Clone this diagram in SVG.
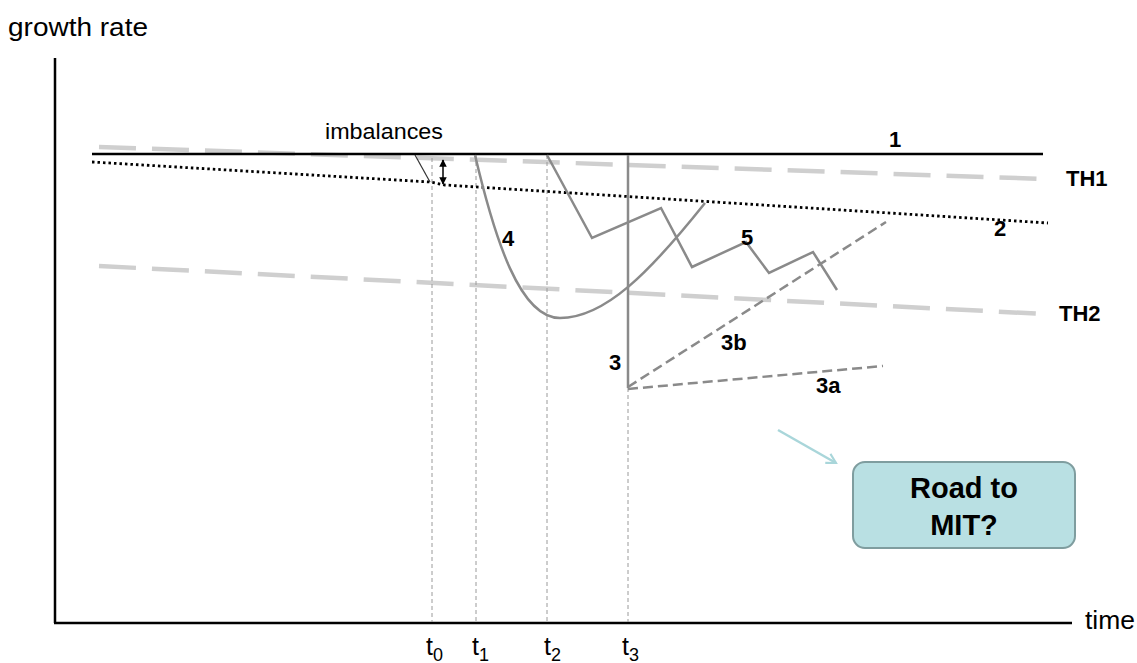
<svg xmlns="http://www.w3.org/2000/svg" width="1137" height="663" viewBox="0 0 1137 663">
<defs>
<style>
.ax{stroke:#000;stroke-width:2.5;fill:none}
.th{stroke:#cfcfcf;stroke-width:4.5;stroke-dasharray:37 16;fill:none}
.vg{stroke:#9a9a9a;stroke-width:1;stroke-dasharray:4 3;fill:none}
.gr{stroke:#8a8a8a;stroke-width:2.5;fill:none;stroke-linejoin:miter}
.gd{stroke:#8a8a8a;stroke-width:2.5;stroke-dasharray:10 5;fill:none}
.dot{stroke:#000;stroke-width:2.8;stroke-dasharray:2.5 3;fill:none}
.lbl{font-family:"Liberation Sans",Arial,sans-serif;font-weight:bold;font-size:22px;fill:#000}
.big{font-family:"Liberation Sans",Arial,sans-serif;font-weight:bold;font-size:29px;fill:#000}
.reg{font-family:"Liberation Sans",Arial,sans-serif;fill:#000}
</style>
<marker id="dbl" viewBox="0 0 10 10" refX="9" refY="5" markerWidth="5" markerHeight="5" orient="auto-start-reverse">
<path d="M0,0 L10,5 L0,10 z" fill="#000"/>
</marker>
<marker id="open" viewBox="0 0 12 12" refX="10" refY="6" markerWidth="5" markerHeight="5" orient="auto">
<path d="M1,1 L10,6 L1,11" fill="none" stroke="#a9d6da" stroke-width="2"/>
</marker>
</defs>
<rect width="1137" height="663" fill="#fff"/>
<g id="axes">
<line class="ax" x1="55" y1="58" x2="55" y2="623"/>
<line class="ax" x1="54" y1="623" x2="1072" y2="623"/>
<text class="reg" x="8" y="36" font-size="25" textLength="140" lengthAdjust="spacingAndGlyphs">growth rate</text>
<text class="reg" x="1085" y="629" font-size="25" textLength="50" lengthAdjust="spacingAndGlyphs">time</text>
</g>
<g id="thresholds">
<line class="th" x1="99" y1="147" x2="1045" y2="179"/>
<line class="th" x1="99" y1="266" x2="1045" y2="314"/>
<text class="lbl" x="1066" y="186">TH1</text>
<text class="lbl" x="1059" y="321">TH2</text>
</g>
<g id="time-markers">
<line class="vg" x1="432" y1="158" x2="432" y2="622"/>
<line class="vg" x1="476" y1="155" x2="476" y2="622"/>
<line class="vg" x1="547" y1="155" x2="547" y2="622"/>
<line class="vg" x1="628" y1="388" x2="628" y2="622"/>
<text class="reg" x="426" y="655" font-size="25">t<tspan font-size="18" dy="6">0</tspan></text>
<text class="reg" x="472" y="655" font-size="25">t<tspan font-size="18" dy="6">1</tspan></text>
<text class="reg" x="544" y="655" font-size="25">t<tspan font-size="18" dy="6">2</tspan></text>
<text class="reg" x="622" y="655" font-size="25">t<tspan font-size="18" dy="6">3</tspan></text>
</g>
<g id="connectors">
<line x1="778" y1="430" x2="836" y2="463" stroke="#a9d6da" stroke-width="2.5" marker-end="url(#open)"/>
</g>
<g id="path1">
<line class="ax" x1="92" y1="154" x2="1043" y2="154"/>
<text class="lbl" x="889" y="147">1</text>
</g>
<g id="path2">
<polyline class="dot" points="92,162 430,182 445,185 1048,223"/>
<text class="lbl" x="994" y="236">2</text>
</g>
<g id="imbalances">
<text class="reg" x="325" y="139" font-size="22" textLength="118" lengthAdjust="spacingAndGlyphs">imbalances</text>
<line x1="415" y1="155" x2="430" y2="182" stroke="#333" stroke-width="1.2"/>
<line x1="443" y1="160" x2="443" y2="184" stroke="#000" stroke-width="1.5" marker-start="url(#dbl)" marker-end="url(#dbl)"/>
</g>
<g id="path4">
<path class="gr" d="M475,155 C495,240 520,318 560,318 C605,318 650,272 705,203"/>
<text class="lbl" x="502" y="246">4</text>
</g>
<g id="path5">
<polyline class="gr" points="547,155 592,238 661,208 692,267 746,242 769,273 813,252 837,290"/>
<text class="lbl" x="741" y="245">5</text>
</g>
<g id="path3">
<line class="gr" x1="628" y1="155" x2="628" y2="388"/>
<text class="lbl" x="609" y="370">3</text>
</g>
<g id="path3b">
<line class="gd" x1="628" y1="387" x2="886" y2="222"/>
<text class="lbl" x="721" y="350">3b</text>
</g>
<g id="path3a">
<line class="gd" x1="628" y1="389" x2="883" y2="366"/>
<text class="lbl" x="816" y="393">3a</text>
</g>
<g id="road-box">
<rect x="853" y="462" width="222" height="86" rx="12" fill="#b9e0e3" stroke="#7f9d9f" stroke-width="2"/>
<text class="big" x="964" y="498" text-anchor="middle">Road to</text>
<text class="big" x="964" y="535" text-anchor="middle">MIT?</text>
</g>
</svg>
